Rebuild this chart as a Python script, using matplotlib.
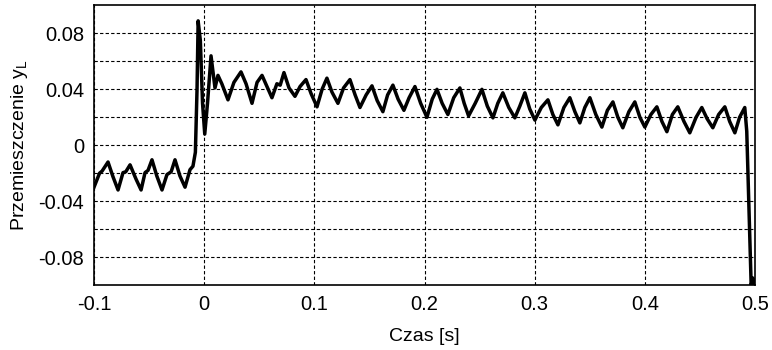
import matplotlib
matplotlib.use("Agg")
import matplotlib.pyplot as plt

plt.rcParams['font.family'] = ['Liberation Sans', 'DejaVu Sans']
plt.rcParams['mathtext.fontset'] = 'custom'
plt.rcParams['mathtext.rm'] = 'Liberation Sans'
plt.rcParams['mathtext.it'] = 'Liberation Sans'

# przebieg (czas [s], przemieszczenie)
czas = [
    -0.100, -0.0950, -0.0927, -0.0873, -0.0828, -0.0782, -0.0737, -0.0712, -0.0673,
    -0.0620, -0.0573, -0.0537, -0.0510, -0.0474, -0.0430, -0.0383, -0.0338, -0.0300,
    -0.0265, -0.0220, -0.0174, -0.0129, -0.0102, -0.0080, -0.0065, -0.0055, -0.0035,
    -0.0015, 0.0005, 0.0030, 0.0062, 0.0098, 0.0125, 0.0160, 0.0216, 0.0270, 0.0334,
    0.0380, 0.0434, 0.0480, 0.0525, 0.0570, 0.0615, 0.0660, 0.0690, 0.0724, 0.0770,
    0.0824, 0.0870, 0.0924, 0.0970, 0.1024, 0.1070, 0.1114, 0.1160, 0.1214, 0.1265,
    0.1323, 0.1370, 0.1414, 0.1470, 0.1523, 0.1570, 0.1622, 0.1665, 0.1713, 0.1760,
    0.1813, 0.1860, 0.1913, 0.1965, 0.2022, 0.2070, 0.2113, 0.2160, 0.2212, 0.2265,
    0.2321, 0.2360, 0.2400, 0.2460, 0.2521, 0.2570, 0.2621, 0.2665, 0.2711, 0.2765,
    0.2820, 0.2865, 0.2911, 0.2955, 0.3002, 0.3060, 0.3120, 0.3165, 0.3211, 0.3265,
    0.3319, 0.3365, 0.3410, 0.3455, 0.3501, 0.3555, 0.3610, 0.3660, 0.3710, 0.3755,
    0.3800, 0.3855, 0.3909, 0.3955, 0.4000, 0.4055, 0.4109, 0.4155, 0.4200, 0.4250,
    0.4299, 0.4355, 0.4408, 0.4465, 0.4517, 0.4565, 0.4617, 0.4670, 0.4726, 0.4770,
    0.4817, 0.4860, 0.4907, 0.4925, 0.4950, 0.4965, 0.4980, 0.4990,
]
y_L = [
    -0.030, -0.020, -0.0185, -0.012, -0.0225, -0.032, -0.0196, -0.0190, -0.014,
    -0.024, -0.032, -0.0196, -0.0180, -0.0104, -0.022, -0.032, -0.021, -0.019,
    -0.0104, -0.022, -0.030, -0.0175, -0.015, -0.005, 0.040, 0.089, 0.075,
    0.030, 0.008, 0.030, 0.064, 0.041, 0.050, 0.044, 0.0325, 0.045, 0.0525,
    0.044, 0.030, 0.045, 0.050, 0.042, 0.034, 0.044, 0.043, 0.052, 0.041,
    0.035, 0.042, 0.047, 0.037, 0.0275, 0.040, 0.048, 0.038, 0.030, 0.041,
    0.047, 0.036, 0.027, 0.036, 0.0425, 0.032, 0.024, 0.036, 0.043, 0.033,
    0.025, 0.034, 0.042, 0.030, 0.020, 0.033, 0.040, 0.030, 0.022, 0.034,
    0.041, 0.030, 0.021, 0.030, 0.040, 0.028, 0.0196, 0.030, 0.0375, 0.027,
    0.0196, 0.028, 0.0375, 0.026, 0.018, 0.027, 0.0325, 0.022, 0.0146, 0.027,
    0.034, 0.024, 0.016, 0.027, 0.034, 0.022, 0.013, 0.025, 0.031, 0.020,
    0.0125, 0.024, 0.031, 0.020, 0.013, 0.022, 0.0275, 0.017, 0.0097, 0.022,
    0.0275, 0.017, 0.0089, 0.020, 0.027, 0.019, 0.0125, 0.022, 0.0275, 0.017,
    0.0089, 0.020, 0.027, 0.010, -0.060, -0.100, -0.095, -0.100,
]

x_ticks = [-0.1, 0, 0.1, 0.2, 0.3, 0.4, 0.5]
x_labels = ['-0.1', '0', '0.1', '0.2', '0.3', '0.4', '0.5']
y_ticks = [-0.08, -0.06, -0.04, -0.02, 0, 0.02, 0.04, 0.06, 0.08]
y_labels = ['-0.08', '', '-0.04', '', '0', '', '0.04', '', '0.08']

fig = plt.figure(figsize=(7.72, 3.5), dpi=100)
ax = fig.add_axes([0.1218, 0.1857, 0.8562, 0.7986])

ax.plot(czas, y_L, color='black', lw=2.5, solid_joinstyle='round')

ax.set_xlim(-0.1, 0.5)
ax.set_ylim(-0.1, 0.1)
ax.set_xticks(x_ticks)
ax.set_xticklabels(x_labels)
ax.set_yticks(y_ticks)
ax.set_yticklabels(y_labels)
ax.tick_params(length=0, labelsize=14.5, pad=7)
ax.grid(True, color='black', linestyle=(0, (3, 2)), lw=0.8)
for s in ax.spines.values():
    s.set_linewidth(1.2)

ax.set_xlabel('Czas [s]', fontsize=14, labelpad=10)
ax.set_ylabel(r'Przemieszczenie y$_{\rm L}$', fontsize=14, labelpad=6)

fig.savefig('out.png', dpi=100)
